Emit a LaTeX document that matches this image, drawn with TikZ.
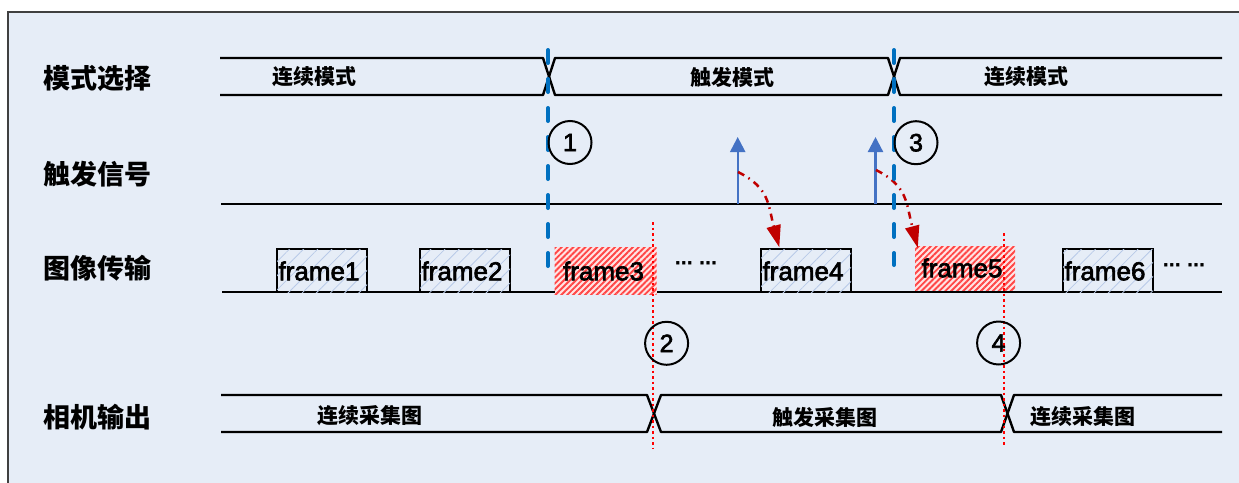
\documentclass[tikz,border=0pt]{standalone}
\usepackage{fontspec}
\setmainfont{Liberation Sans}
\newfontfamily\cjk{Noto Sans CJK SC}
\newfontfamily\djv{DejaVu Sans}
\newfontfamily\frm[FakeBold=2.5]{Liberation Sans}
\usetikzlibrary{arrows.meta,patterns.meta,calc}
\definecolor{bg}{RGB}{230,237,247}
\definecolor{selblue}{RGB}{0,112,192}
\definecolor{arrblue}{RGB}{68,114,196}
\definecolor{darkred}{RGB}{192,0,0}
\definecolor{hatchblue}{RGB}{184,202,232}
\definecolor{hatchred}{RGB}{255,70,70}
\definecolor{pinkbg}{RGB}{255,228,228}
\begin{document}
\begin{tikzpicture}[x=1pt,y=-1pt,
  lbl/.style={font=\cjk\bfseries\fontsize{27}{30}\selectfont, anchor=west, inner sep=0pt},
  bustxt/.style={font=\cjk\bfseries\fontsize{21}{24}\selectfont, inner sep=0pt},
  busline/.style={line width=2.4pt, black, line join=round},
  thinline/.style={line width=1.4pt, black},
  frtxt/.style={font=\frm\fontsize{26}{28}\selectfont, inner sep=0pt},
  fblue/.style={draw=black, line width=1.4pt, fill=bg, inner sep=0pt,
    minimum width=90pt, minimum height=43pt,
    postaction={pattern={Lines[angle=45,distance=10pt,line width=0.8pt]}, pattern color=hatchblue}},
  fred/.style={fill=pinkbg, inner sep=0pt,
    postaction={pattern={Lines[angle=45,distance=4.2pt,line width=1.9pt]}, pattern color=hatchred}},
  numc/.style={circle, draw=black, line width=2pt, minimum size=43pt, inner sep=0pt,
    font=\frm\fontsize{25}{27}\selectfont},
  seldash/.style={selblue, line width=4pt, line cap=round, dash pattern=on 13pt off 16pt},
  reddot/.style={red, line width=2.5pt, dash pattern=on 2.5pt off 3pt},
  barrow/.style={arrblue, line width=2.2pt, -{Triangle[length=15pt,width=15pt]}},
  rarrow/.style={darkred, line width=2.5pt, dash pattern=on 7pt off 5pt on 1.5pt off 5pt,
    -{Triangle[length=22pt,width=14pt]}},
  dots/.style={font=\djv\bfseries\fontsize{18}{20}\selectfont, inner sep=0pt}
]
\useasboundingbox (0,0) rectangle (1239,482);
\begin{scope}
\clip (0,0) rectangle (1239,482);
\fill[white] (0,0) rectangle (1239,482);
\draw[fill=bg, draw=black!75, line width=1.5pt] (8,12) rectangle (1260,500);
\end{scope}

% row labels
\node[lbl] (l1) at (43,78) {模式选择};
\node[lbl] (l2) at (43,174) {触发信号};
\node[lbl] (l3) at (43,268) {图像传输};
\node[lbl] (l4) at (43,417) {相机输出};

% mode select bus
\draw[busline] (220,58) -- (543,58) -- (555,95) -- (888,95) -- (900,58) -- (1222,58);
\draw[busline] (220,95) -- (543,95) -- (555,58) -- (888,58) -- (900,95) -- (1222,95);
\node[bustxt] (m1) at (314,77) {连续模式};
\node[bustxt] (m2) at (732,77) {触发模式};
\node[bustxt] (m3) at (1026,77) {连续模式};

% trigger line
\draw[busline] (221,204) -- (1222,204);

% image transfer baseline
\draw[thinline] (222,292) -- (1222,292);

% frames
\node[fblue] (f1) at (322,270.5) {};
\node[fblue] (f2) at (465,270.5) {};
\node[fred, minimum width=102pt, minimum height=47pt] (f3) at (605.5,270.5) {};
\node[fblue] (f4) at (806,270.5) {};
\node[fred, minimum width=100pt, minimum height=44pt] (f5) at (965,268) {};
\node[fblue] (f6) at (1108,270.5) {};
\node[frtxt] (t1) at ($(f1.center)+(-3,0.5)$) {frame1};
\node[frtxt] (t2) at ($(f2.center)+(-3,0.5)$) {frame2};
\node[frtxt] (t3) at ($(f3.center)+(-2,0.5)$) {frame3};
\node[frtxt] (t4) at ($(f4.center)+(-3,0.5)$) {frame4};
\node[frtxt] (t5) at ($(f5.center)+(-3,0)$) {frame5};
\node[frtxt] (t6) at ($(f6.center)+(-3,0.5)$) {frame6};
\node[dots] (d1) at (696,266) {⋯ ⋯};
\node[dots] (d2) at (1184,268) {⋯ ⋯};

% camera output bus
\draw[busline] (221,395) -- (647,395) -- (661,432) -- (1001,432) -- (1014,395) -- (1222,395);
\draw[busline] (221,432) -- (647,432) -- (661,395) -- (1001,395) -- (1014,432) -- (1222,432);
\node[bustxt] (o1) at (370,416) {连续采集图};
\node[bustxt] (o2) at (825,417) {触发采集图};
\node[bustxt] (o3) at (1083,417) {连续采集图};

% trigger arrows
\coordinate (a1s) at (737.7,204);
\coordinate (a1e) at (737.7,137);
\coordinate (a2s) at (875.5,204);
\coordinate (a2e) at (875.5,137);
\draw[barrow] (a1s) -- (a1e);
\draw[barrow] (a2s) -- (a2e);

% dash-dot red arrows
\coordinate (r1s) at (738,172);
\coordinate (r1e) at ($(f4.north west)+(19,-1)$);
\coordinate (r2s) at (876,170);
\coordinate (r2e) at ($(f5.north west)+(3,2)$);
\draw[rarrow] (r1s) .. controls (770,188) and (768,205) .. (r1e);
\draw[rarrow] (r2s) .. controls (908,186) and (906,203) .. (r2e);

% blue dashed mode-switch lines
\coordinate (b1t) at (548,50);
\coordinate (b1b) at (548,269);
\coordinate (b2t) at (894,50);
\coordinate (b2b) at (894,265);
\draw[seldash] (b1t) -- (b1b);
\draw[seldash] (b2t) -- (b2b);

% red dotted output-switch lines
\coordinate (p1t) at (653,222);
\coordinate (p1b) at (653,448);
\coordinate (p2t) at (1004,233);
\coordinate (p2b) at (1004,447);
\draw[reddot] (p1t) -- (p1b);
\draw[reddot] (p2t) -- (p2b);

% numbered circles
\node[numc] (c1) at (570,142.5) {1};
\node[numc] (c3) at (916,142.7) {3};
\node[numc] (c2) at (666.6,343.3) {2};
\node[numc] (c4) at (998.6,343) {4};
\end{tikzpicture}
\end{document}
